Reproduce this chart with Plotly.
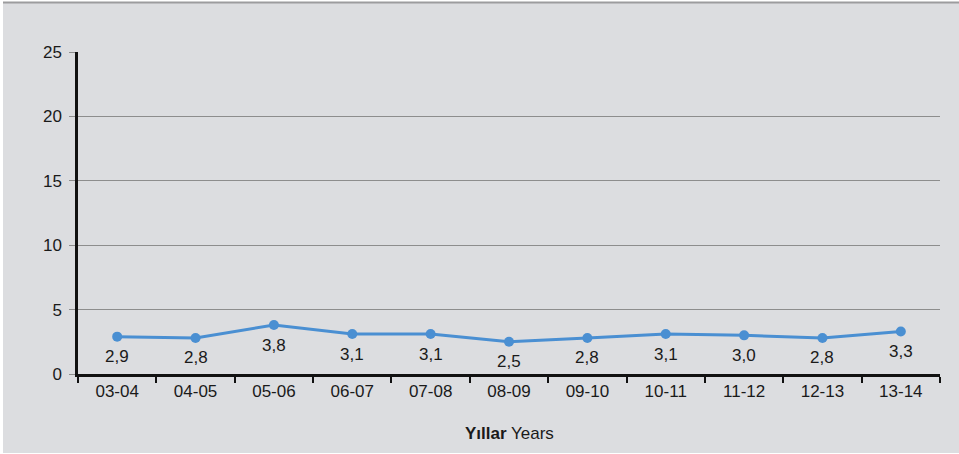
import plotly.graph_objects as go

# Academic years and the yearly rate shown for each
years = ["03-04", "04-05", "05-06", "06-07", "07-08", "08-09",
         "09-10", "10-11", "11-12", "12-13", "13-14"]
values = [2.9, 2.8, 3.8, 3.1, 3.1, 2.5, 2.8, 3.1, 3.0, 2.8, 3.3]
y_ticks = [0, 5, 10, 15, 20, 25]

labels = [f"{v:.1f}".replace(".", ",") for v in values]

FONT = "Liberation Sans, Arial, sans-serif"
TEXT = "#1a1a1a"
LINE_BLUE = "#4a8fd2"
PANEL = "#dcdde0"
GRID = "#8d8d8d"

# plot-area pixel geometry, used to place the panel behind the chart
L, R, T, B = 78, 19, 52, 80
W, H = 959, 454
pw, ph = W - L - R, H - T - B


def px_x(p):
    return (p - L) / pw


def px_y(p):
    return (H - B - p) / ph


fig = go.Figure()
fig.add_trace(go.Scatter(
    x=years, y=values,
    mode="lines+markers",
    line=dict(color=LINE_BLUE, width=3),
    marker=dict(color=LINE_BLUE, size=10),
    cliponaxis=False,
    showlegend=False,
))

# value labels sit a little below each point
value_labels = [
    dict(x=yr, y=v, xref="x", yref="y", text=lab, showarrow=False,
         yshift=-20, xanchor="center", yanchor="middle",
         font=dict(family=FONT, size=17, color=TEXT))
    for yr, v, lab in zip(years, values, labels)
]

fig.update_layout(
    width=W, height=H,
    margin=dict(l=L, r=R, t=T, b=B),
    paper_bgcolor="white",
    plot_bgcolor="rgba(0,0,0,0)",
    font=dict(family=FONT, size=17, color=TEXT),
    shapes=[
        dict(type="rect", xref="paper", yref="paper", layer="below",
             x0=px_x(3), x1=px_x(W + 2), y0=px_y(453), y1=px_y(3),
             fillcolor=PANEL, line=dict(width=0)),
        dict(type="line", xref="paper", yref="paper", layer="below",
             x0=px_x(3), x1=px_x(W + 2), y0=px_y(2.5), y1=px_y(2.5),
             line=dict(color="#9c9c9e", width=2)),
    ],
    annotations=value_labels + [
        dict(xref="paper", yref="paper", x=0.5, y=px_y(434),
             text="<b>Yıllar</b> Years", showarrow=False,
             font=dict(family=FONT, size=17, color=TEXT),
             xanchor="center", yanchor="middle"),
    ],
)

fig.update_xaxes(
    type="category", range=[-0.5, len(years) - 0.5],
    showline=True, linecolor="#111111", linewidth=2.5,
    ticks="outside", tickson="boundaries", ticklen=6,
    tickcolor="#111111", tickwidth=1.5,
    showgrid=False, zeroline=False,
    tickfont=dict(family=FONT, size=17, color=TEXT),
)
fig.update_yaxes(
    range=[0, 25], tickvals=y_ticks,
    showline=True, linecolor="#111111", linewidth=2.5,
    ticks="outside", ticklen=6, tickcolor=GRID, tickwidth=1,
    ticklabelstandoff=4,
    showgrid=True, gridcolor=GRID, gridwidth=1,
    zeroline=False,
    tickfont=dict(family=FONT, size=17, color=TEXT),
)

fig.write_html("out.html")
